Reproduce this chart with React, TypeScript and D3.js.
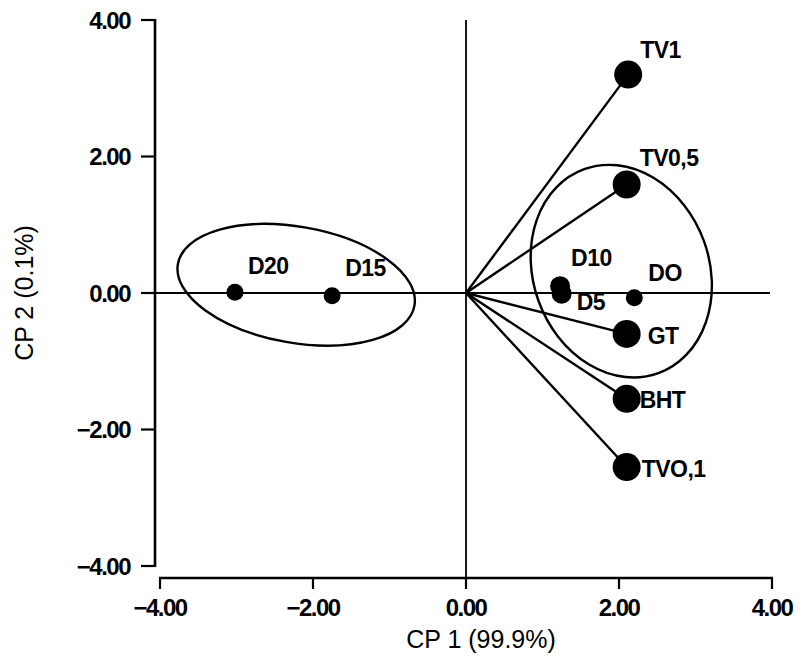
import * as d3 from "d3";

// scores / loadings
const labels = ["TV1", "TV0,5", "D10", "D5", "DO", "GT", "BHT", "TVO,1", "D20", "D15"];
const cp1 = [2.12, 2.1, 1.23, 1.25, 2.2, 2.1, 2.1, 2.1, -3.02, -1.75];
const cp2 = [3.2, 1.59, 0.1, -0.01, -0.07, -0.6, -1.55, -2.55, 0.01, -0.04];
// which points are vectors drawn from the origin
const vectors = ["TV1", "TV0,5", "GT", "BHT", "TVO,1"];
const bigDots = ["TV1", "TV0,5", "GT", "BHT", "TVO,1"];

const xTicks = [-4, -2, 0, 2, 4];
const yTicks = [4, 2, 0, -2, -4];

// grouping ellipses: centre, semi-axes (data units), tilt in degrees
const ellipseCx = [-2.22, 2.03];
const ellipseCy = [0.12, 0.32];
const ellipseRx = [1.57, 1.15];
const ellipseRy = [0.85, 1.59];
const ellipseTilt = [10, -20];

// label offsets in px (dx, dy) relative to the marker
const labelDx = [12, 13, 11, 15, 14, 21, 13, 15, 13, 13];
const labelDy = [-25, -27, -28, 8, -25, 2, 1, 2, -27, -28];

export default function App() {
  const width = 802;
  const height = 659;

  const x = d3.scaleLinear().domain([-4, 4]).range([160, 772]);
  const y = d3.scaleLinear().domain([-4, 4]).range([566, 20]);
  const yAxisX = 155;
  const xAxisY = 578;
  const font = "'Liberation Sans', Arial, sans-serif";

  const pts = labels.map((l, i) => ({ label: l, x: cp1[i], y: cp2[i] }));

  return (
    <svg width={width} height={height} style={{ position: "absolute", left: 0, top: 0, background: "#fff" }}>
      <g fontFamily={font} fill="#000">
        {/* crosshair */}
        <line x1={x(0)} x2={x(0)} y1={y(4)} y2={xAxisY} stroke="#000" strokeWidth={1.8} />
        <line x1={yAxisX} x2={x(4) - 2} y1={y(0)} y2={y(0)} stroke="#000" strokeWidth={1.8} />

        {/* y axis */}
        <line x1={yAxisX} x2={yAxisX} y1={y(4) - 1} y2={y(-4) + 1} stroke="#000" strokeWidth={2.6} />
        {yTicks.map((t) => (
          <g key={"y" + t}>
            <line x1={yAxisX - 14} x2={yAxisX} y1={y(t)} y2={y(t)} stroke="#000" strokeWidth={2.2} />
            <text x={yAxisX - 25} y={y(t)} dy="0.36em" textAnchor="end" fontSize={24} fontWeight="bold" letterSpacing={-1.5}>
              {d3.format(".2f")(t)}
            </text>
          </g>
        ))}

        {/* x axis */}
        <line x1={x(-4) - 1} x2={x(4) + 1} y1={xAxisY} y2={xAxisY} stroke="#000" strokeWidth={2.6} />
        {xTicks.map((t) => (
          <g key={"x" + t}>
            <line x1={x(t)} x2={x(t)} y1={xAxisY} y2={xAxisY + 11} stroke="#000" strokeWidth={2.2} />
            <text x={x(t)} y={xAxisY + 38} textAnchor="middle" fontSize={24} fontWeight="bold" letterSpacing={-1.5}>
              {d3.format(".2f")(t)}
            </text>
          </g>
        ))}

        {/* axis titles */}
        <text x={481} y={648} textAnchor="middle" fontSize={25}>
          CP 1 (99.9%)
        </text>
        <text transform={`translate(33, ${y(0)}) rotate(-90)`} textAnchor="middle" fontSize={25}>
          CP 2 (0.1%)
        </text>

        {/* ellipses */}
        {ellipseCx.map((cx, i) => (
          <ellipse
            key={"e" + i}
            cx={x(cx)}
            cy={y(ellipseCy[i])}
            rx={x(ellipseRx[i]) - x(0)}
            ry={y(0) - y(ellipseRy[i])}
            transform={`rotate(${ellipseTilt[i]} ${x(cx)} ${y(ellipseCy[i])})`}
            fill="none"
            stroke="#000"
            strokeWidth={2.4}
          />
        ))}

        {/* vectors */}
        {pts
          .filter((p) => vectors.includes(p.label))
          .map((p) => (
            <line key={"v" + p.label} x1={x(0)} y1={y(0)} x2={x(p.x)} y2={y(p.y)} stroke="#000" strokeWidth={2.4} />
          ))}

        {/* markers + labels */}
        {pts.map((p, i) => {
          const r = bigDots.includes(p.label) ? 14 : p.label === "D10" || p.label === "D5" ? 10 : 8.5;
          return (
            <g key={p.label}>
              <circle cx={x(p.x)} cy={y(p.y)} r={r} fill="#000" />
              <text x={x(p.x) + labelDx[i]} y={y(p.y) + labelDy[i]} dy="0.36em" fontSize={23} fontWeight="bold" letterSpacing={-0.5}>
                {p.label}
              </text>
            </g>
          );
        })}
      </g>
    </svg>
  );
}
